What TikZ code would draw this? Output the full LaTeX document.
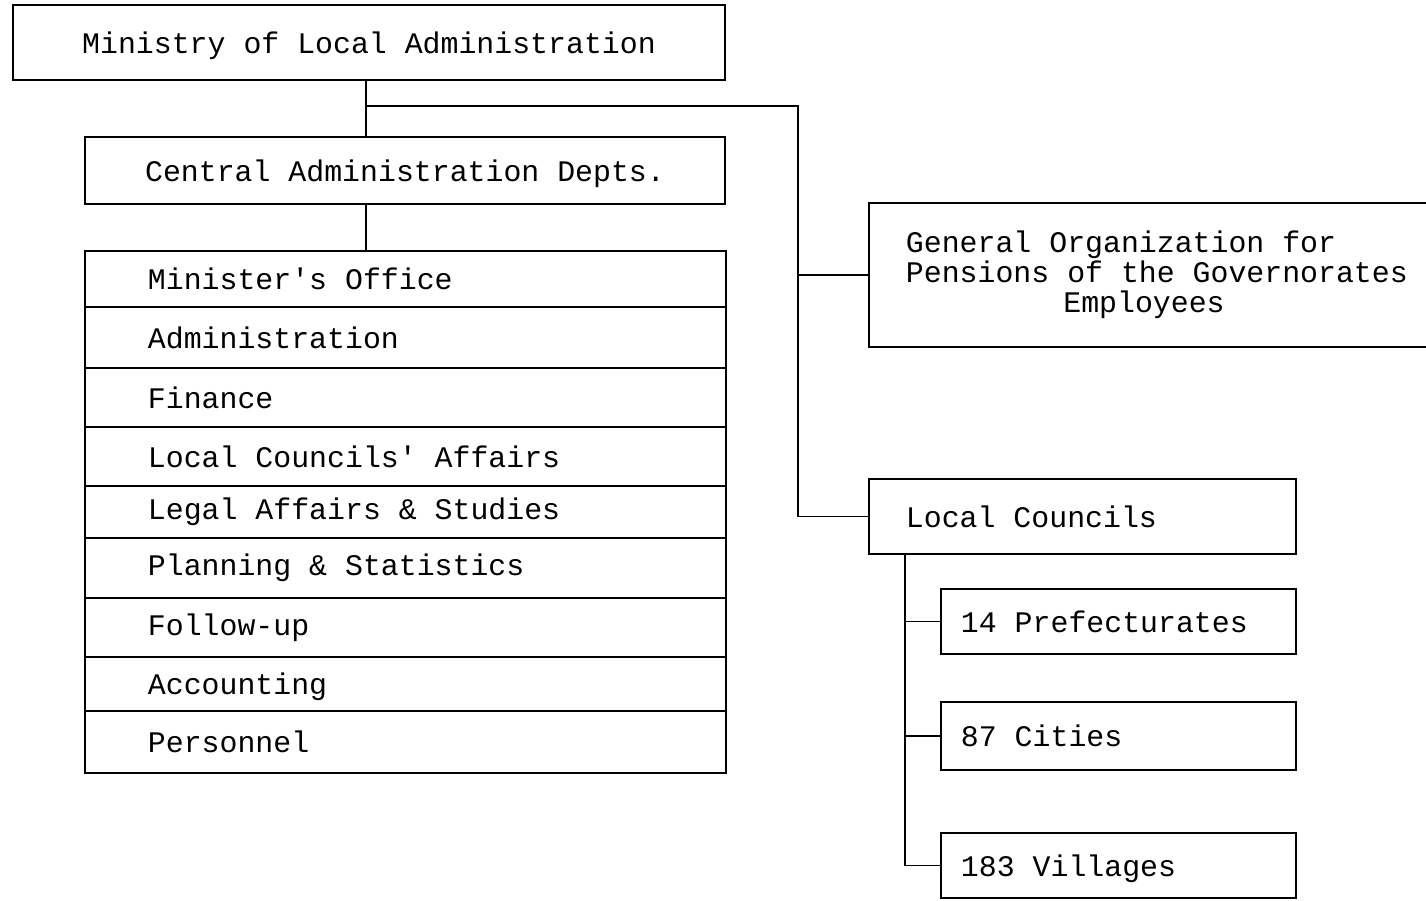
\documentclass[tikz,border=0pt]{standalone}
\usepackage{fontspec}
\newfontfamily\typewriter{Liberation Mono}
\begin{document}
\begin{tikzpicture}[x=0.02cm,y=-0.02cm,line width=1.1pt,
  font=\typewriter\fontsize{17}{17}\selectfont,
  execute at begin node={\spaceskip=0pt\xspaceskip=0pt},
  box/.style={draw, align=center, inner ysep=0pt, text depth=0pt},
  rowbox/.style={draw, anchor=north west, align=left, inner ysep=0pt, inner xsep=1.26cm, text width=10.3cm},
  unitbox/.style={draw, anchor=west, align=left, inner ysep=0pt}]
\useasboundingbox (0,0) rectangle (1426,900);
\clip (0,0) rectangle (1426,900);
\node[box, minimum width=14.24cm, minimum height=1.5cm] (min) at (369,42.5) {Ministry of Local Administration};
\node[box, minimum width=12.8cm, minimum height=1.34cm] (cen) at (405,170.5) {Central Administration Depts.};
% departments
\node[rowbox, minimum height=1.12cm] (r1) at (84,250) {Minister's Office};
\node[rowbox, minimum height=1.22cm] (r2) at (84,306) {Administration};
\node[rowbox, minimum height=1.18cm] (r3) at (84,367) {Finance};
\node[rowbox, minimum height=1.18cm] (r4) at (84,426) {Local Councils' Affairs};
\node[rowbox, minimum height=1.04cm] (r5) at (84,485) {Legal Affairs \& Studies};
\node[rowbox, minimum height=1.2cm] (r6) at (84,537) {Planning \& Statistics};
\node[rowbox, minimum height=1.18cm] (r7) at (84,597) {Follow-up};
\node[rowbox, minimum height=1.08cm, text depth=0pt] (r8) at (84,656) {Accounting};
\node[rowbox, minimum height=1.24cm] (r9) at (84,710) {Personnel};
% right side
\node[unitbox, minimum height=2.88cm, inner xsep=0.74cm, text width=10.12cm] (gen) at (868,275) {General Organization for\\Pensions of the Governorates\\\makebox[\hsize][c]{Employees\hspace{1em}}};
\node[unitbox, minimum height=1.5cm, inner xsep=0.74cm, text width=7.06cm] (lc) at (868,516.5) {Local Councils};
\node[unitbox, minimum height=1.3cm, inner xsep=0.4cm, text width=6.3cm] (pre) at (940,621.5) {14 Prefecturates};
\node[unitbox, minimum height=1.36cm, inner xsep=0.4cm, text width=6.3cm] (cit) at (940,736) {87 Cities};
\node[unitbox, minimum height=1.3cm, inner xsep=0.4cm, text width=6.3cm, text depth=0pt] (vil) at (940,865.5) {183 Villages};
\coordinate (j1) at (366,106);
\coordinate (spine) at (798,106);
\coordinate (lcx) at (905,0);
\draw (j1 |- min.south) -- (j1 |- cen.north);
\draw (j1 |- cen.south) -- (j1 |- r1.north);
\draw (j1) -- (spine) |- (lc.west);
\draw (spine |- gen.west) -- (gen.west);
\draw (lcx |- lc.south) |- (vil.west);
\draw (lcx |- pre.west) -- (pre.west);
\draw (lcx |- cit.west) -- (cit.west);
\end{tikzpicture}
\end{document}
